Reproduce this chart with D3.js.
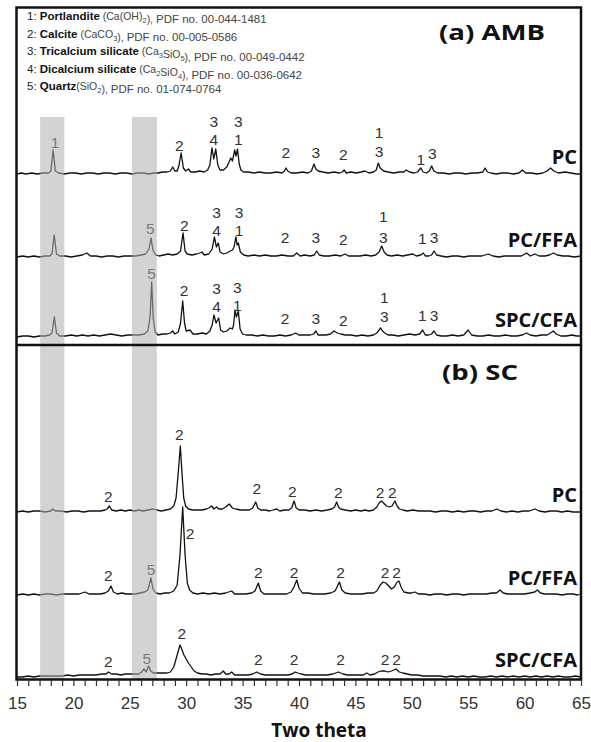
<!DOCTYPE html>
<html>
<head>
<meta charset="utf-8">
<script src="https://cdn.jsdelivr.net/npm/d3@7/dist/d3.min.js"></script>
<style>
  body { margin: 0; background: #fff; }
  svg { display: block; }
</style>
</head>
<body>
<svg id="chart" width="591" height="742"></svg>
<script>
// x axis (two theta, degrees)
var xDomain = [15, 65]
var xTickLabels = [15, 20, 25, 30, 35, 40, 45, 50, 55, 60, 65]
var xMinorTicks = d3.range(15, 66, 1)

// grey highlight bands (portlandite ~18 deg, quartz ~26.6 deg)
var shadedBands = [[17.05, 19.2], [25.2, 27.4]]

// phase legend
var phaseIds = ['1', '2', '3', '4', '5']
var phaseNames = ['Portlandite', 'Calcite', 'Tricalcium silicate', 'Dicalcium silicate', 'Quartz']
var phaseFormulas = ['Ca(OH)_2', 'CaCO_3', 'Ca_3SiO_5', 'Ca_2SiO_4', 'SiO_2']
var pdfNumbers = ['00-044-1481', '00-005-0586', '00-049-0442', '00-036-0642', '01-074-0764']

var seriesNames = ['PC', 'PC/FFA', 'SPC/CFA']
// vertical stacking offsets of the patterns (a.u.)
var offsetsAmb = [171, 88, 8]
var offsetsSc = [167, 84, 2]

// (a) AMB patterns [2theta, intensity a.u.]
var pcAmb = [[15,0],[15.4,1],[15.8,0],[16.3,1],[16.8,0],[17.3,1],[17.8,1],[18.0,3],[18.2,24],[18.4,3],[18.7,1],[19.2,0],[19.7,1],[20.2,1],[20.7,0],[21.2,1],[21.7,1],[22.2,0],[22.7,1],[23.2,1],[23.7,0],[24.2,1],[24.7,1],[25.2,0],[25.7,1],[26.2,1],[26.7,0],[27.1,1],[27.5,1],[27.9,2],[28.3,2],[28.6,3],[28.8,7],[29.0,3],[29.2,3],[29.35,8],[29.55,21],[29.75,6],[29.95,3],[30.2,5],[30.4,2],[30.8,2],[31.2,3],[31.6,2],[31.9,4],[32.1,9],[32.28,26],[32.45,15],[32.62,25],[32.8,9],[33.0,4],[33.3,4],[33.6,7],[33.8,12],[33.95,16],[34.1,13],[34.3,24],[34.42,18],[34.55,25],[34.7,10],[34.85,4],[35.1,2],[35.5,2],[36.0,1],[36.5,2],[37.0,1],[37.5,1],[38.0,2],[38.5,1],[38.7,3],[38.85,6],[39.0,3],[39.3,1],[39.8,1],[40.3,2],[40.8,1],[41.1,3],[41.33,10],[41.5,5],[41.7,3],[42.1,2],[42.6,1],[43.1,2],[43.6,1],[43.85,2],[44.0,4],[44.2,1],[44.6,2],[45.1,1],[45.5,2],[45.85,3],[46.2,1],[46.6,2],[46.85,4],[47.03,11],[47.2,6],[47.5,3],[47.9,2],[48.4,1],[48.9,2],[49.3,2],[49.5,4],[49.8,2],[50.2,1],[50.5,2],[50.8,6],[51.0,2],[51.3,1],[51.55,3],[51.76,8],[51.95,3],[52.3,1],[52.8,1],[53.3,0],[53.8,1],[54.3,1],[54.8,0],[55.3,1],[55.8,1],[56.3,2],[56.5,6],[56.7,2],[57.0,1],[57.5,0],[58.0,1],[58.5,1],[59.0,0],[59.5,1],[59.8,4],[60.1,1],[60.6,1],[61.1,0],[61.6,1],[62.0,3],[62.3,6],[62.6,3],[63.0,1],[63.6,2],[64.1,1],[64.6,0],[65,0]]
var pcFfaAmb = [[15,0],[15.5,1],[16,0],[16.5,1],[17,0],[17.5,1],[17.9,1],[18.1,3],[18.3,22],[18.5,3],[18.8,1],[19.3,1],[19.8,0],[20.3,1],[20.8,2],[21.2,4],[21.5,1],[22.0,1],[22.5,0],[23.0,1],[23.5,1],[24.0,0],[24.5,1],[25.0,1],[25.5,1],[26.0,2],[26.4,3],[26.7,8],[26.88,19],[27.05,7],[27.3,2],[27.6,1],[28.0,2],[28.4,3],[28.8,2],[29.2,3],[29.5,6],[29.72,24],[29.9,6],[30.1,3],[30.5,2],[30.9,3],[31.2,4],[31.4,5],[31.6,2],[32.0,3],[32.3,8],[32.5,20],[32.68,10],[32.85,14],[33.0,5],[33.3,3],[33.6,4],[33.9,6],[34.1,7],[34.25,10],[34.4,20],[34.52,12],[34.62,14],[34.8,5],[35.1,2],[35.5,1],[36.0,2],[36.5,1],[37.0,2],[37.5,1],[38.0,1],[38.5,2],[39.0,1],[39.5,1],[39.8,4],[40.1,1],[40.5,2],[41.0,1],[41.35,2],[41.57,6],[41.8,2],[42.2,1],[42.7,1],[43.2,2],[43.7,1],[44.08,3],[44.4,1],[44.9,1],[45.4,1],[45.9,2],[46.4,1],[46.8,2],[47.1,5],[47.33,11],[47.55,5],[47.8,2],[48.2,1],[48.7,2],[49.2,1],[49.6,2],[50.1,3],[50.4,1],[50.8,2],[51.02,4],[51.2,1],[51.5,1],[51.75,2],[51.97,6],[52.2,2],[52.6,1],[53.1,0],[53.6,1],[54.1,1],[54.6,0],[55.1,1],[55.6,1],[56.2,1],[56.78,3],[57.2,1],[57.7,0],[58.2,1],[58.7,1],[59.2,1],[59.7,1],[60.18,4],[60.5,1],[60.9,3],[61.3,1],[61.8,1],[62.2,2],[62.55,4],[62.9,2],[63.4,1],[63.9,1],[64.4,0],[65,1]]
var spcCfaAmb = [[15,0],[15.5,1],[16,1],[16.5,0],[17,1],[17.5,1],[17.9,2],[18.1,4],[18.31,20],[18.5,4],[18.8,1],[19.3,1],[19.8,2],[20.3,1],[20.8,2],[21.3,1],[21.8,2],[22.3,1],[22.8,2],[23.3,3],[23.8,2],[24.3,1],[24.8,2],[25.3,2],[25.8,2],[26.3,3],[26.6,6],[26.8,20],[26.94,55],[27.08,18],[27.25,5],[27.5,2],[27.9,3],[28.3,3],[28.6,4],[28.8,6],[29.0,3],[29.3,5],[29.5,14],[29.69,36],[29.85,14],[30.0,6],[30.34,7],[30.6,3],[31.0,3],[31.4,4],[31.8,3],[32.1,6],[32.3,12],[32.46,22],[32.65,14],[32.88,19],[33.05,7],[33.3,5],[33.6,6],[33.9,9],[34.1,8],[34.2,12],[34.33,27],[34.45,20],[34.62,26],[34.78,8],[35.0,3],[35.3,2],[35.8,2],[36.3,1],[36.8,2],[37.3,1],[37.8,1],[38.3,2],[38.8,1],[39.3,2],[39.7,4],[40.0,2],[40.5,2],[41.0,2],[41.3,3],[41.5,6],[41.7,2],[42.0,2],[42.4,2],[42.8,3],[43.1,6],[43.4,4],[43.7,3],[44.1,2],[44.6,2],[45.1,1],[45.6,2],[46.1,1],[46.6,2],[46.9,4],[47.1,7],[47.24,9],[47.4,6],[47.6,4],[47.9,2],[48.3,2],[48.8,1],[49.3,2],[49.8,3],[50.3,2],[50.7,3],[50.96,7],[51.2,2],[51.5,2],[51.75,3],[51.97,6],[52.2,2],[52.6,1],[53.1,1],[53.6,2],[54.1,1],[54.6,2],[55.0,7],[55.3,2],[55.8,1],[56.3,1],[56.8,2],[57.3,1],[57.8,1],[58.3,2],[58.8,1],[59.3,1],[59.8,2],[60.18,4],[60.5,2],[61.0,1],[61.5,2],[62.0,2],[62.3,4],[62.55,6],[62.8,3],[63.2,1],[63.7,1],[64.2,2],[64.6,1],[65,1]]

// (b) SC patterns
var pcSc = [[15,0],[15.5,1],[16,0],[16.5,1],[17,1],[17.5,0],[18.0,1],[18.16,3],[18.4,1],[18.9,1],[19.4,0],[19.9,1],[20.4,1],[20.9,0],[21.4,1],[21.9,1],[22.4,1],[22.8,2],[23.0,3],[23.19,6],[23.4,2],[23.8,1],[24.2,2],[24.6,1],[25.0,2],[25.4,1],[25.8,2],[26.2,1],[26.6,2],[27.09,3],[27.4,2],[27.8,1],[28.2,2],[28.6,3],[28.9,6],[29.1,14],[29.3,40],[29.48,66],[29.62,40],[29.78,14],[29.95,6],[30.2,3],[30.6,2],[31.0,2],[31.4,2],[31.8,3],[32.0,4],[32.26,6],[32.45,3],[32.7,5],[32.9,3],[33.2,3],[33.5,5],[33.82,8],[34.1,4],[34.4,3],[34.8,2],[35.2,2],[35.6,2],[35.9,4],[36.16,10],[36.35,4],[36.6,2],[37.0,2],[37.4,1],[37.7,2],[38.02,3],[38.3,1],[38.7,2],[39.1,2],[39.35,4],[39.56,11],[39.75,4],[40.0,2],[40.5,2],[41.0,1],[41.5,2],[42.0,1],[42.5,2],[42.9,3],[43.15,5],[43.34,10],[43.5,5],[43.7,3],[44.1,2],[44.6,1],[45.0,2],[45.5,1],[45.85,2],[46.2,1],[46.6,2],[46.9,5],[47.1,9],[47.3,11],[47.5,9],[47.75,6],[48.0,5],[48.25,6],[48.5,11],[48.7,6],[48.9,3],[49.2,2],[49.6,1],[50.1,2],[50.6,1],[51.1,1],[51.6,1],[52.1,0],[52.6,1],[53.1,1],[53.6,0],[54.1,1],[54.6,0],[55.1,1],[55.6,1],[56.1,0],[56.6,1],[57.1,1],[57.53,3],[57.9,1],[58.4,0],[58.9,1],[59.4,0],[59.9,1],[60.4,1],[60.92,3],[61.3,1],[61.8,0],[62.3,1],[62.8,1],[63.3,0],[63.8,1],[64.3,0],[65,0]]
var pcFfaSc = [[15,0],[15.5,1],[16,0],[16.5,1],[17,0],[17.5,1],[18,1],[18.5,0],[19,1],[19.5,1],[20,1],[20.5,1],[21.03,3],[21.4,1],[21.9,1],[22.4,1],[22.8,2],[23.1,4],[23.33,9],[23.55,3],[23.9,1],[24.3,2],[24.7,1],[25.1,1],[25.5,1],[25.9,2],[26.3,3],[26.6,5],[26.88,17],[27.05,6],[27.3,2],[27.7,1],[28.1,2],[28.5,2],[28.9,4],[29.2,10],[29.45,40],[29.69,88],[29.9,40],[30.1,12],[30.3,5],[30.6,2],[31.0,1],[31.5,2],[32.0,1],[32.5,2],[33.0,1],[33.5,2],[34.03,4],[34.3,1],[34.8,1],[35.3,1],[35.8,2],[36.1,4],[36.39,12],[36.6,4],[36.9,1],[37.4,1],[37.9,1],[38.4,1],[38.9,1],[39.3,3],[39.55,8],[39.8,15],[40.0,7],[40.3,2],[40.8,2],[41.3,1],[41.8,1],[42.3,1],[42.8,2],[43.2,4],[43.45,10],[43.58,13],[43.8,5],[44.1,2],[44.6,1],[45.1,1],[45.6,1],[46.1,2],[46.6,2],[46.9,4],[47.2,10],[47.45,13],[47.7,12],[47.95,9],[48.2,6],[48.45,8],[48.7,13],[48.86,14],[49.05,8],[49.3,3],[49.7,2],[50.0,2],[50.28,3],[50.6,1],[51.1,1],[51.6,0],[52.1,1],[52.6,1],[53.1,0],[53.6,1],[54.1,1],[54.6,0],[55.1,1],[55.6,1],[56.1,1],[56.6,1],[57.1,2],[57.5,2],[57.82,5],[58.1,2],[58.5,1],[59.0,1],[59.5,1],[60.0,1],[60.5,2],[60.9,3],[61.13,5],[61.4,2],[61.8,1],[62.3,1],[62.8,1],[63.3,0],[63.8,1],[64.3,1],[64.7,0],[65,1]]
var spcCfaSc = [[15,0],[15.5,0],[16,1],[16.5,0],[17,1],[17.5,1],[18,1],[18.5,1],[19,1],[19.5,2],[20,1],[20.5,2],[21,2],[21.5,2],[22,2],[22.5,3],[22.9,3],[23.1,5],[23.4,3],[23.8,3],[24.2,2],[24.6,3],[25.0,3],[25.4,3],[25.8,3],[26.05,5],[26.26,8],[26.45,5],[26.67,11],[26.85,6],[27.1,4],[27.5,4],[27.9,4],[28.3,4],[28.6,5],[28.9,10],[29.15,20],[29.45,32],[29.6,28],[29.8,22],[30.0,18],[30.2,14],[30.45,10],[30.7,6],[31.0,4],[31.4,3],[31.8,3],[32.2,2],[32.6,3],[33.0,3],[33.29,6],[33.5,3],[33.8,3],[34.03,5],[34.3,2],[34.7,2],[35.1,2],[35.5,2],[35.9,3],[36.25,5],[36.6,3],[37.0,2],[37.4,2],[37.8,2],[38.2,2],[38.6,2],[39.0,2],[39.4,3],[39.65,5],[39.9,4],[40.2,3],[40.6,2],[41.0,2],[41.5,2],[42.0,2],[42.5,2],[43.0,3],[43.49,5],[43.9,3],[44.3,2],[44.8,2],[45.3,2],[45.7,2],[46.0,4],[46.3,2],[46.7,3],[47.0,5],[47.3,6],[47.62,6],[47.9,5],[48.2,6],[48.6,8],[48.9,5],[49.2,4],[49.6,3],[50.0,2],[50.5,2],[51.0,1],[51.5,1],[52.0,1],[52.5,1],[53,0],[53.5,1],[54,0],[54.5,1],[55,0],[55.5,1],[56,0],[56.5,0],[57,1],[57.5,0],[58,1],[58.5,0],[59,1],[59.5,0],[60,1],[60.5,0],[61,1],[61.5,0],[62,1],[62.5,0],[63,1],[63.5,0],[64,0],[64.5,1],[65,0]]

// peak phase labels [2theta, phase id, height above pattern (a.u.)]
var pcAmbPeaks = [[18.37,'1',32],[29.39,'2',29],[32.44,'3',53],[32.44,'4',35],[34.62,'3',53],[34.62,'1',35],[38.82,'2',22],[41.5,'3',22],[43.93,'2',20],[47.09,'1',42],[47.09,'3',23],[50.79,'1',15],[51.82,'3',21]]
var pcFfaAmbPeaks = [[26.82,'5',29],[29.83,'2',32],[32.7,'3',45],[32.7,'4',27],[34.68,'3',45],[34.68,'1',27],[38.76,'2',20],[41.5,'3',20],[43.93,'2',18],[47.48,'1',41],[47.48,'3',20],[50.93,'1',19],[51.97,'3',20]]
var spcCfaAmbPeaks = [[26.94,'5',64],[29.8,'2',47],[32.7,'3',49],[32.7,'4',31],[34.53,'3',50],[34.53,'1',32],[38.76,'2',19],[41.5,'3',19],[43.93,'2',17],[47.57,'1',40],[47.57,'3',21],[50.93,'1',22],[51.97,'3',22]]
var pcScPeaks = [[23.1,'2',16],[29.39,'2',78],[36.25,'2',24],[39.4,'2',21],[43.49,'2',20],[47.18,'2',20],[48.27,'2',20]]
var pcFfaScPeaks = [[23.1,'2',20],[26.88,'5',26],[30.34,'2',62],[36.39,'2',23],[39.56,'2',23],[43.69,'2',23],[47.62,'2',23],[48.66,'2',23]]
var spcCfaScPeaks = [[23.1,'2',16],[26.5,'5',19],[29.6,'2',44],[36.39,'2',18],[39.56,'2',18],[43.69,'2',18],[47.62,'2',18],[48.66,'2',18]]

var svg = d3.select('#chart')
var x = d3.scaleLinear().domain(xDomain).range([17, 581])
var yAmb = d3.scaleLinear().domain([0, 340]).range([345, 5])
var ySc = d3.scaleLinear().domain([0, 334]).range([679, 345])

var panels = [
  { y: yAmb, offsets: offsetsAmb, traces: [pcAmb, pcFfaAmb, spcCfaAmb], peaks: [pcAmbPeaks, pcFfaAmbPeaks, spcCfaAmbPeaks] },
  { y: ySc, offsets: offsetsSc, traces: [pcSc, pcFfaSc, spcCfaSc], peaks: [pcScPeaks, pcFfaScPeaks, spcCfaScPeaks] }
]

var labelFont = '"Open Sans", "Noto Sans", sans-serif'
var digitFont = '"Liberation Sans", Arial, sans-serif'

panels.forEach(function(panel) {
  panel.traces.forEach(function(trace, i) {
    var off = panel.offsets[i]
    var line = d3.line()
      .x(function(d) { return x(d[0]) })
      .y(function(d) { return panel.y(off + d[1]) })

    svg.append('path')
      .datum(trace)
      .attr('d', line)
      .attr('fill', 'none')
      .attr('stroke', '#111')
      .attr('stroke-width', 1.3)
      .attr('stroke-linejoin', 'round')

    svg.append('g').selectAll('text')
      .data(panel.peaks[i])
      .enter().append('text')
      .attr('x', function(d) { return x(d[0]) })
      .attr('y', function(d) { return panel.y(off + d[2]) })
      .attr('text-anchor', 'middle')
      .attr('dominant-baseline', 'central')
      .attr('font-family', digitFont)
      .attr('font-size', 15.5)
      .attr('fill', '#333')
      .text(function(d) { return d[1] })

    svg.append('text')
      .attr('x', 577)
      .attr('y', panel.y(off) - 10)
      .attr('text-anchor', 'end')
      .attr('font-family', labelFont)
      .attr('font-weight', 'bold')
      .attr('font-size', 20)
      .attr('fill', '#111')
      .text(seriesNames[i])
  })
})

// translucent grey bands over the patterns
svg.append('g').selectAll('rect')
  .data(shadedBands)
  .enter().append('rect')
  .attr('x', function(d) { return x(d[0]) })
  .attr('width', function(d) { return x(d[1]) - x(d[0]) })
  .attr('y', 117)
  .attr('height', 679 - 117)
  .attr('fill', '#b1b1b1')
  .attr('fill-opacity', 0.56)

// frame and panel divider
svg.append('rect')
  .attr('x', 16.5).attr('y', 7.5)
  .attr('width', 581 - 16.5).attr('height', 679.5 - 7.5)
  .attr('fill', 'none')
  .attr('stroke', '#111')
  .attr('stroke-width', 2.5)
svg.append('line')
  .attr('x1', 16.5).attr('x2', 581)
  .attr('y1', yAmb(0)).attr('y2', yAmb(0))
  .attr('stroke', '#111')
  .attr('stroke-width', 2.5)

// x axis
var xAxis = d3.axisBottom(x)
  .tickValues(xMinorTicks)
  .tickSize(6)
  .tickSizeOuter(0)
  .tickPadding(11)
  .tickFormat(function(d) { return xTickLabels.indexOf(d) >= 0 ? d : '' })

var axisG = svg.append('g')
  .attr('transform', 'translate(0,680)')
  .call(xAxis)
axisG.select('.domain').remove()
axisG.selectAll('.tick line').attr('stroke', '#333').attr('stroke-width', 1.2)
axisG.selectAll('.tick text')
  .attr('font-family', digitFont)
  .attr('font-size', 17)
  .attr('fill', '#333')

svg.append('text')
  .attr('x', 319)
  .attr('y', 737)
  .attr('text-anchor', 'middle')
  .attr('font-family', labelFont)
  .attr('font-weight', 'bold')
  .attr('font-size', 19)
  .attr('fill', '#111')
  .text('Two theta')

// panel titles
svg.append('text')
  .attr('x', 439).attr('y', 40)
  .attr('font-family', labelFont)
  .attr('font-weight', 'bold')
  .attr('font-size', 22)
  .attr('textLength', 106)
  .attr('lengthAdjust', 'spacingAndGlyphs')
  .attr('fill', '#111')
  .text('(a) AMB')
svg.append('text')
  .attr('x', 442).attr('y', 380)
  .attr('font-family', labelFont)
  .attr('font-weight', 'bold')
  .attr('font-size', 22)
  .attr('textLength', 76)
  .attr('lengthAdjust', 'spacingAndGlyphs')
  .attr('fill', '#111')
  .text('(b) SC')

// legend of phases
var legend = svg.append('g')
  .attr('font-family', digitFont)
phaseIds.forEach(function(id, i) {
  var t = legend.append('text')
    .attr('x', 27)
    .attr('y', 20 + i * 17.5)
    .attr('font-size', 11.5)
  t.append('tspan').attr('fill', '#222').text(id + ': ')
  t.append('tspan').attr('fill', '#111').attr('font-weight', 'bold').text(phaseNames[i])
  var open = i === phaseIds.length - 1 ? '(' : ' ('
  t.append('tspan').attr('fill', '#444').attr('font-size', 10.5).text(open)
  // formula with subscripts
  var parts = phaseFormulas[i].split(/(_\d)/)
  parts.forEach(function(p) {
    if (p === '') return
    if (p[0] === '_') {
      t.append('tspan').attr('fill', '#444').attr('font-size', 7.5).attr('dy', 3).text(p.slice(1))
      t.append('tspan').attr('dy', -3).text('')
    } else {
      t.append('tspan').attr('fill', '#444').attr('font-size', 10.5).text(p)
    }
  })
  t.append('tspan').attr('fill', '#444').attr('font-size', 10.5).text('), ')
  t.append('tspan').attr('fill', '#444').text('PDF no. ' + pdfNumbers[i])
})
</script>
</body>
</html>
